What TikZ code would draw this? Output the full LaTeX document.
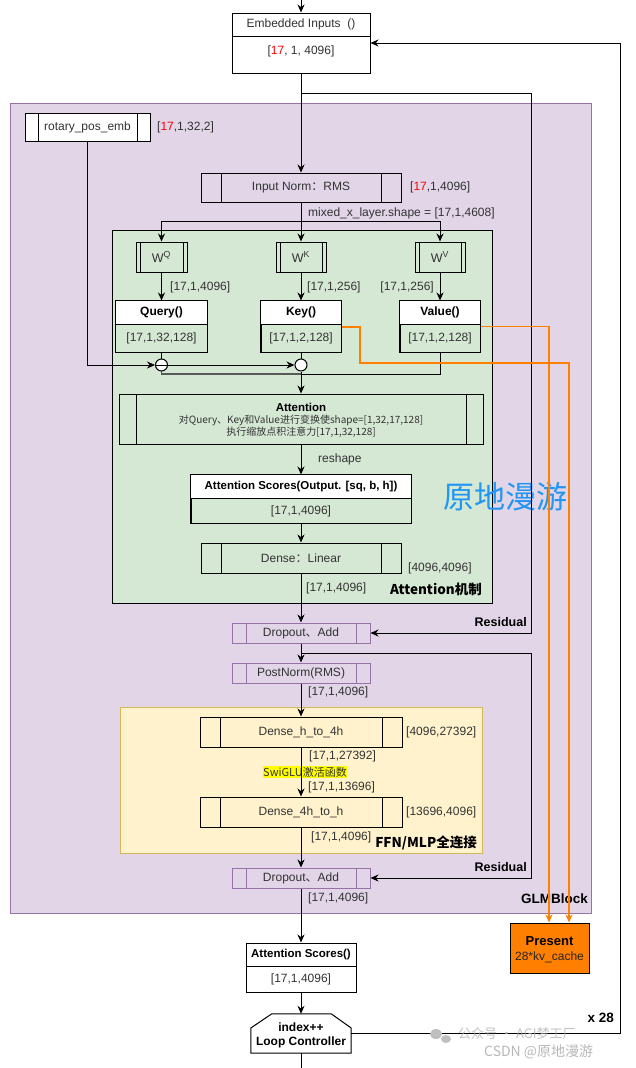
\documentclass[tikz,border=0pt]{standalone}
\usepackage{fontspec}
\setmainfont{Liberation Sans}
\newfontfamily\cjk{Noto Sans CJK SC}
\usetikzlibrary{arrows.meta,fit}
\definecolor{purpfill}{HTML}{E1D5E7}
\definecolor{purpline}{HTML}{9673A6}
\definecolor{greenfill}{HTML}{D5E8D4}
\definecolor{yelfill}{HTML}{FFF2CC}
\definecolor{yelline}{HTML}{D6B656}
\definecolor{orng}{HTML}{FF8000}
\definecolor{txtc}{HTML}{333333}
\definecolor{wmblue}{HTML}{2196F3}
\definecolor{hlyel}{HTML}{FFFF00}
\newcommand\fsz[1]{\fontsize{#1}{#1}\selectfont}
\newcommand\rd[1]{\textcolor{red}{#1}}
\tikzset{
  box/.style={draw=black, inner sep=0pt, line width=1pt},
  procbox/.style={draw=black, inner sep=0pt, line width=1pt,
    path picture={\draw[black,line width=1pt]
      ([xshift=#1]path picture bounding box.north west) -- ([xshift=#1]path picture bounding box.south west)
      ([xshift=-#1]path picture bounding box.north east) -- ([xshift=-#1]path picture bounding box.south east);}},
  procpurple/.style={draw=purpline, inner sep=0pt, line width=1pt,
    path picture={\draw[purpline,line width=1pt]
      ([xshift=#1]path picture bounding box.north west) -- ([xshift=#1]path picture bounding box.south west)
      ([xshift=-#1]path picture bounding box.north east) -- ([xshift=-#1]path picture bounding box.south east);}},
  txt/.style={inner sep=0pt, text=txtc, font=\fsz{12}},
  lblw/.style={inner sep=0pt, text=txtc, font=\fsz{12}, anchor=west},
  lble/.style={inner sep=0pt, text=txtc, font=\fsz{12}, anchor=east},
  bold/.style={inner sep=0pt, text=black, font=\fsz{12}\bfseries},
  conn/.style={line width=1pt, -{Stealth[length=8pt,width=7pt]}},
  plain/.style={line width=1pt},
  oconn/.style={line width=1.2pt, draw=orng, -{Stealth[length=8pt,width=7pt]}},
}
\begin{document}
\begin{tikzpicture}[x=1pt,y=-1pt]
\useasboundingbox (0,0) rectangle (636,1068);
% containers
\node[draw=purpline, fill=purpfill, line width=1pt, inner sep=0pt, fit={(10,103)(591,913)}] (glm) {};
\node[draw=black, fill=greenfill, line width=1pt, inner sep=0pt, fit={(112,230)(492,603)}] (attbox) {};
\node[draw=yelline, fill=yelfill, line width=1pt, inner sep=0pt, fit={(120,707)(482,853)}] (ffnbox) {};

% Embedded Inputs
\node[box, fill=white, fit={(232,13)(370,73)}] (emb) {};
\draw[plain] (emb.west |- 0,36) -- (emb.east |- 0,36);
\node[txt] (embt) at (301,24.5) {Embedded Inputs\ \ ()};
\node[txt] (embv) at (301,51) {[\rd{17}, 1, 4096]};
\coordinate (topin) at (301,0);
\draw[conn] (topin) -- (emb.north);

% rotary
\node[procbox=13, fill=white, fit={(25,113)(150,141)}] (rot) {};
\node[txt] (rott) at (rot.center) {rotary\_pos\_emb};
\node[lblw] (rotl) at (157,127) {[\rd{17},1,32,2]};

% Input norm
\node[procbox=20, fit={(201,173)(401,202)}] (norm) {};
\node[txt] (normt) at (norm.center) {Input Norm{\cjk ：}RMS};
\node[lblw] (norml) at (410,187) {[\rd{17},1,4096]};
\node[lblw] (mixl) at (308,213) {mixed\_x\_layer.shape = [17,1,4608]};
\draw[conn] (emb.south) -- (norm.north);

% residual 1
\coordinate (r1a) at (301,93);
\coordinate (r1b) at (531,93);
\draw[plain] (r1a) -- (r1b);

% W boxes
\node[procbox=4, fit={(136,242)(187,272)}] (wq) {};
\node[procbox=4, fit={(276,242)(326,272)}] (wk) {};
\node[procbox=4, fit={(415,242)(465,272)}] (wv) {};
\node[txt, font=\fsz{12.5}] (wqt) at (wq.center) {W\textsuperscript{Q}};
\node[txt, font=\fsz{12.5}] (wkt) at (wk.center) {W\textsuperscript{K}};
\node[txt, font=\fsz{12.5}] (wvt) at (wv.center) {W\textsuperscript{V}};
\coordinate (br) at (301,221);
\draw[conn] (norm.south) -- (wk.north);
\draw[conn] (br) -| (wq.north);
\draw[conn] (br) -| (wv.north);

% Q K V
\node[box, fill=white, fit={(116,301)(207,352)}] (query) {};
\node[box, fit={(261,301)(341,352)}] (key) {};
\node[box, fit={(400,301)(480,352)}] (value) {};
\fill[white] (query.north west) rectangle (query.east |- 0,324);
\fill[white] (key.north west) rectangle (key.east |- 0,324);
\fill[white] (value.north west) rectangle (value.east |- 0,324);
\fill[greenfill] (query.west |- 0,324) rectangle (query.south east);
\draw[plain] (query.north west) rectangle (query.south east);
\draw[plain] (key.north west) rectangle (key.south east);
\draw[plain] (value.north west) rectangle (value.south east);
\draw[plain] (query.west |- 0,324) -- (query.east |- 0,324);
\draw[plain] (key.west |- 0,324) -- (key.east |- 0,324);
\draw[plain] (value.west |- 0,324) -- (value.east |- 0,324);
\node[bold] (qt) at (161.5,312.5) {Query()};
\node[bold] (kt) at (301,312.5) {Key()};
\node[bold] (vt) at (440,312.5) {Value()};
\node[txt] (qv) at (161.5,338) {[17,1,32,128]};
\node[txt] (kv) at (301,338) {[17,1,2,128]};
\node[txt] (vv) at (440,338) {[17,1,2,128]};
\draw[conn] (wq.south) -- (query.north);
\draw[conn] (wk.south) -- (key.north);
\draw[conn] (wv.south) -- (value.north);
\node[lblw] (wql) at (170,287) {[17,1,4096]};
\node[lblw] (wkl) at (307,287) {[17,1,256]};
\node[lble] (wvl) at (434,287) {[17,1,256]};

% circles
\coordinate (m) at (301,374);
\draw[line width=1.5pt, draw=black!65] (161.5,365) |- (m);
\draw[plain] (value.south) |- (m);
\node[circle, draw=black, fill=white, line width=1pt, minimum size=12pt, inner sep=0pt] (c1) at (161.5,365) {};
\node[circle, draw=black, fill=white, line width=1pt, minimum size=12pt, inner sep=0pt] (c2) at (301,365) {};
\draw[plain] (c1.west) -- (c1.east);
\draw[plain] (query.south) -- (c1.north);
\draw[plain] (key.south) -- (c2.north);
\draw[conn] (rot.south) |- (c1.west);
\draw[conn] (c1.east) -- (c2.west);

% Attention
\node[procbox=17, fit={(119,394)(483,444)}] (attn) {};
\node[bold, font=\fsz{11.5}\bfseries] (attnt) at (301,407) {Attention};
\node[txt, font=\cjk\fsz{10}] (attn2) at (301,420) {对Query、Key和Value进行变换使shape=[1,32,17,128]};
\node[txt, font=\cjk\fsz{10}] (attn3) at (301,432.5) {执行缩放点积注意力[17,1,32,128]};
\draw[conn] (c2.south) -- (attn.north);

% Attention scores
\node[box, fit={(191,475)(411,523)}] (asc) {};
\fill[white] (asc.north west) rectangle (asc.east |- 0,498);
\draw[plain] (asc.north west) rectangle (asc.south east);
\draw[plain] (asc.west |- 0,498) -- (asc.east |- 0,498);
\node[bold, font=\fsz{11.5}\bfseries] (asct) at (301,486.5) {Attention Scores(Output. [sq, b, h])};
\node[txt] (ascv) at (301,511) {[17,1,4096]};
\draw[conn] (attn.south) -- (asc.north);
\node[lblw] (resh) at (318,459) {reshape};

\node[inner sep=0pt, text=wmblue, font=\cjk\fsz{31}] (wm) at (505,497) {原地漫游};

% Dense linear
\node[procbox=20, fit={(201,543)(401,573)}] (dense) {};
\node[txt] (denset) at (dense.center) {Dense{\cjk ：}Linear};
\node[lblw] (densel) at (408,568) {[4096,4096]};
\node[lblw] (densev) at (306,588) {[17,1,4096]};
\node[bold, font=\cjk\fsz{13.5}\bfseries, anchor=east] (attlab) at (482,589) {Attention机制};
\draw[conn] (asc.south) -- (dense.north);

% Dropout 1
\node[procpurple=14, fit={(232,623)(370,643)}] (drop1) {};
\node[txt] (drop1t) at (drop1.center) {Dropout{\cjk 、}Add};
\draw[conn] (dense.south) -- (drop1.north);
\draw[conn] (r1b) |- (drop1.east);
\node[bold, font=\fsz{12.5}\bfseries, anchor=east] (res1) at (527,622) {Residual};

% PostNorm
\node[procpurple=14, fit={(232,663)(370,683)}] (post) {};
\node[txt] (postt) at (post.center) {PostNorm(RMS)};
\draw[conn] (drop1.south) -- (post.north);
\node[lblw] (postl) at (308,692) {[17,1,4096]};
\coordinate (r2a) at (301,653);
\coordinate (r2b) at (531,653);
\draw[plain] (r2a) -- (r2b);

% FFN
\node[procbox=20, fit={(200,717)(402,747)}] (dh) {};
\node[txt] (dht) at (dh.center) {Dense\_h\_to\_4h};
\node[lblw] (dhl) at (406,732) {[4096,27392]};
\node[lblw] (dhv) at (309,756) {[17,1,27392]};
\node[inner sep=0.6pt, fill=hlyel, text=txtc, font=\cjk\fsz{11}] (swig) at (305,772) {SwiGLU激活函数};
\node[lblw] (dhv2) at (308,787) {[17,1,13696]};
\node[procbox=20, fit={(200,797)(402,827)}] (d4) {};
\node[txt] (d4t) at (d4.center) {Dense\_4h\_to\_h};
\node[lblw] (d4l) at (406,812) {[13696,4096]};
\node[lblw] (d4v) at (311,837) {[17,1,4096]};
\node[bold, font=\cjk\fsz{13.5}\bfseries, anchor=east] (ffnlab) at (477,843) {FFN/MLP全连接};
\draw[conn] (post.south) -- (dh.north);
\draw[conn] (dh.south) -- (d4.north);

% Dropout 2
\node[procpurple=14, fit={(232,868)(370,888)}] (drop2) {};
\node[txt] (drop2t) at (drop2.center) {Dropout{\cjk 、}Add};
\draw[conn] (d4.south) -- (drop2.north);
\draw[conn] (r2b) |- (drop2.east);
\node[bold, font=\fsz{12.5}\bfseries, anchor=east] (res2) at (527,867) {Residual};
\node[lblw] (drop2v) at (308,898) {[17,1,4096]};
\node[bold, font=\fsz{13.5}\bfseries, anchor=east] (glmlab) at (588,899) {GLMBlock};

% final attention scores
\node[box, fill=white, fit={(246,943)(356,992)}] (fas) {};
\draw[plain] (fas.west |- 0,966) -- (fas.east |- 0,966);
\node[bold, font=\fsz{11.5}\bfseries] (fast) at (301,954.5) {Attention Scores()};
\node[txt] (fasv) at (301,979) {[17,1,4096]};
\draw[conn] (drop2.south) -- (fas.north);

% Present
\node[box, fill=orng, fit={(510,923)(589,973)}] (pres) {};
\node[bold, font=\fsz{13}\bfseries] (prest) at (549.5,941) {Present};
\node[inner sep=0pt, text=black!85, font=\fsz{12}] (presv) at (549.5,957) {28*kv\_cache};
\coordinate (ok1) at (360,327);
\coordinate (ok2) at (360,363);
\coordinate (ok3) at (569,363);
\draw[oconn] (key.east |- ok1) -- (ok1) -- (ok2) -- (ok3) -- (pres.north -| ok3);
\coordinate (ov1) at (549,326.5);
\draw[oconn] (value.east) -- (ov1) -- (pres.north -| ov1);

% loop controller
\node[inner sep=0pt, fit={(251,1014)(351,1053)}] (loop) {};
\draw[plain, fill=white] (loop.south west) -- (loop.west |- 0,1028) -- ([xshift=21pt]loop.north west)
  -- ([xshift=-20pt]loop.north east) -- (loop.east |- 0,1028) -- (loop.south east) -- cycle;
\node[bold] (loopt1) at (301,1027) {index++};
\node[bold] (loopt2) at (301,1042) {Loop Controller};
\draw[conn] (fas.south) -- (loop.north);
\coordinate (loopout) at (301,1068);
\draw[plain] (loop.south) -- (loopout);
\coordinate (lc1) at (620,1033.5);
\coordinate (lc2) at (620,43);
\draw[conn] (loop.east) -- (lc1) -- (lc2) -- (emb.east |- lc2);
\node[bold, font=\fsz{13.5}\bfseries, anchor=east] (x28) at (614,1018) {x 28};

% watermark
\node[inner sep=0pt, text=black!30, font=\cjk\fsz{13}, anchor=west, opacity=0.8] (wm1) at (458,1034) {公众号 · AGI梦工厂};
\node[inner sep=0pt, text=black!35, font=\cjk\fsz{14}, anchor=west, opacity=0.8] (wm2) at (484,1052) {CSDN @原地漫游};
\fill[black!25] (436,1034) ellipse (6pt and 5pt);
\fill[black!25] (446,1039) ellipse (5pt and 4pt);
\end{tikzpicture}
\end{document}
